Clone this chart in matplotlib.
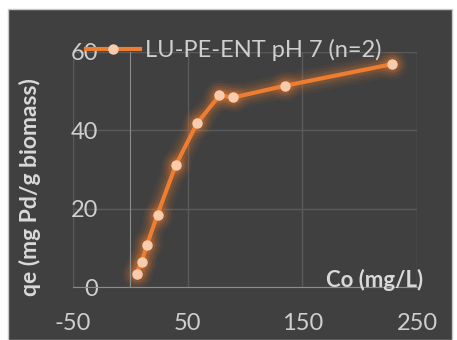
import matplotlib.pyplot as plt
from matplotlib.patches import Rectangle

# isotherm data
co = [5.4, 9.8, 14.6, 23.7, 39.6, 58.2, 77.7, 89.9, 135.2, 228.4]
qe = [3.4, 6.5, 10.8, 18.5, 31.1, 41.8, 48.9, 48.4, 51.4, 56.9]
series_label = "LU-PE-ENT pH 7 (n=2)"
x_ticks = [-50, 50, 150, 250]
y_ticks = [0, 20, 40, 60]

orange = "#ED7D31"
marker_fill = "#F8CBAD"
text_grey = "#D9D9D9"
tick_grey = "#CFCFCF"
panel = "#404040"

plt.rcParams["font.family"] = ["Lato", "DejaVu Sans"]
plt.rcParams["axes.unicode_minus"] = False

fig = plt.figure(figsize=(4.57, 3.4), dpi=100)
fig.patch.set_facecolor("white")
fig.patches.append(Rectangle((8 / 457, 0), 444 / 457, 1 - 9 / 340,
                             transform=fig.transFigure, facecolor=panel,
                             edgecolor="#C8C8C8", linewidth=1, zorder=-10))

ax = fig.add_axes([73 / 457, 1 - 287 / 340, 344 / 457, 235 / 340])
ax.set_facecolor("none")
ax.set_xlim(-50, 250)
ax.set_ylim(0, 60)

# soft glow under the line
for lw, a in [(18, 0.05), (14, 0.07), (10, 0.10), (7, 0.14)]:
    ax.plot(co, qe, color=orange, lw=lw, alpha=a, solid_capstyle="round",
            solid_joinstyle="round", marker="o", markersize=lw + 4,
            markeredgewidth=0, label="_nolegend_", zorder=2)
ax.plot(co, qe, color=orange, lw=3, marker="o", markersize=6.5,
        markerfacecolor=marker_fill, markeredgecolor=marker_fill,
        label=series_label, zorder=3)

for sp in ["top", "right"]:
    ax.spines[sp].set_visible(False)
ax.spines["left"].set_position(("data", 0))
ax.spines["left"].set_color("#8C8C8C")
ax.spines["bottom"].set_color("#8C8C8C")

ax.set_xticks(x_ticks)
ax.set_yticks(y_ticks)
ax.tick_params(axis="both", length=0, labelsize=17, labelcolor=tick_grey)
ax.tick_params(axis="y", pad=23)
ax.tick_params(axis="x", pad=19)
ax.grid(True, color="#5A5A5A", lw=1)
ax.set_axisbelow(True)

leg = ax.legend(loc="center left", bbox_to_anchor=(86 / 457, 1 - 50 / 340),
                bbox_transform=fig.transFigure, frameon=False, fontsize=17,
                borderpad=0, borderaxespad=0, handlelength=2.3,
                handletextpad=0.2)
for t in leg.get_texts():
    t.set_color(tick_grey)

fig.text(30 / 457, 1 - 187 / 340, "qe (mg Pd/g biomass)", rotation=90,
         ha="center", va="center", fontsize=16.5, fontweight="bold",
         color=text_grey)
fig.text(423 / 457, 1 - 280 / 340, "Co (mg/L)", ha="right", va="center",
         fontsize=16, fontweight="bold", color=text_grey)

fig.savefig("out.png", dpi=100, facecolor=fig.get_facecolor())
